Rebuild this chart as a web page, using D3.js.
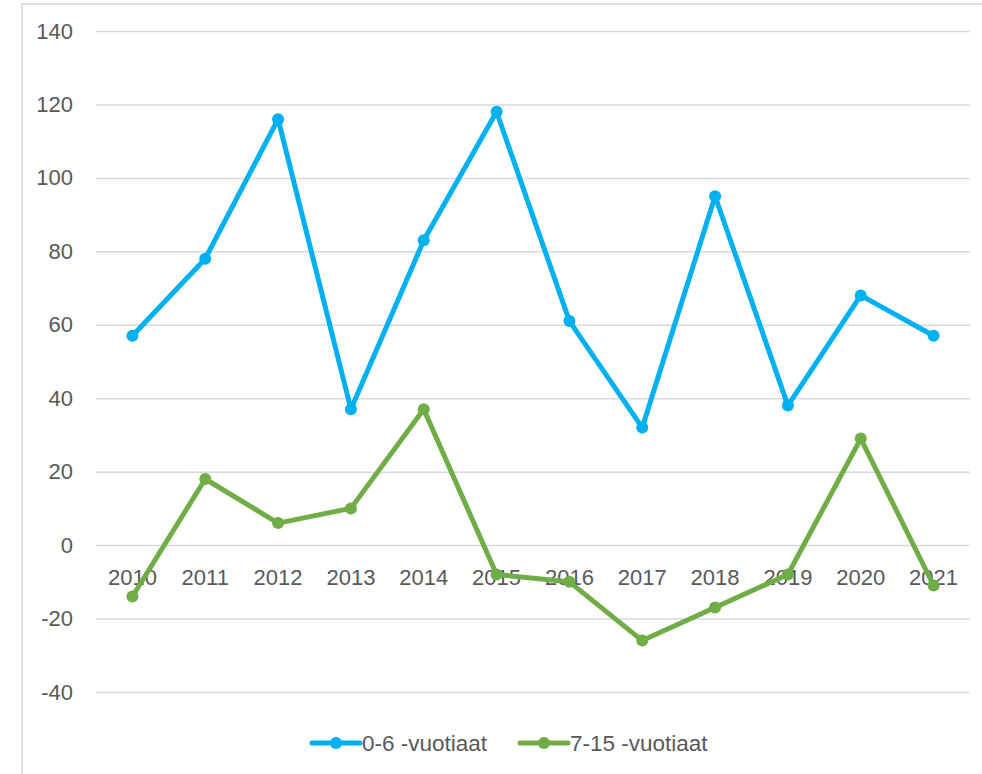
<!DOCTYPE html>
<html>
<head>
<meta charset="utf-8">
<script src="https://cdn.jsdelivr.net/npm/d3@7"></script>
<style>
  html, body { margin: 0; padding: 0; background: #fff; }
  text { font-family: 'Liberation Sans', Arial, sans-serif; fill: #595959; }
</style>
</head>
<body>
<div id="vis"></div>
<script>
'use strict'

const years = ['2010', '2011', '2012', '2013', '2014', '2015', '2016', '2017', '2018', '2019', '2020', '2021']
const young = [57, 78, 116, 37, 83, 118, 61, 32, 95, 38, 68, 57]
const older = [-14, 18, 6, 10, 37, -8, -10, -26, -17, -8, 29, -11]
const yTicks = [140, 120, 100, 80, 60, 40, 20, 0, -20, -40]
const seriesNames = ['0-6 -vuotiaat', '7-15 -vuotiaat']

const colors = ['#00b0f0', '#70ad47']

const totalWidth = 982
const totalHeight = 774
const margin = { top: 31, right: 12, bottom: 82, left: 96 }
const width = totalWidth - margin.left - margin.right
const height = totalHeight - margin.top - margin.bottom

const svg = d3.select('div#vis')
  .append('svg')
    .attr('width', totalWidth)
    .attr('height', totalHeight)

svg // chart frame
  .append('rect')
    .attr('x', 22)
    .attr('y', 4)
    .attr('width', 1000)
    .attr('height', 800)
    .attr('fill', 'none')
    .attr('stroke', '#d9d9d9')
    .attr('stroke-width', 1.5)

const x = d3.scaleBand()
  .domain(years)
  .range([0, width])

const y = d3.scaleLinear()
  .domain([-40, 140])
  .range([height, 0])

const chart = svg
  .append('g')
    .attr('transform', 'translate(' + margin.left + ',' + margin.top + ')')

// gridlines + y labels (plain hyphen for negatives)
const yAxis = d3.axisLeft(y)
  .tickValues(yTicks)
  .tickFormat(d => String(d))
  .tickSize(-width)
  .tickPadding(23)

chart.append('g')
  .attr('class', 'y axis')
  .call(yAxis)
  .call(g => g.select('.domain').remove())
  .call(g => g.selectAll('line').attr('stroke', '#d9d9d9').attr('stroke-width', 1.5))
  .call(g => g.selectAll('text').attr('font-size', 22).attr('fill', '#595959'))

// category labels at the zero line
chart.append('g')
  .attr('class', 'x axis')
  .attr('transform', 'translate(0,' + y(0) + ')')
  .call(d3.axisBottom(x).tickSize(0).tickPadding(24))
  .call(g => g.select('.domain').remove())
  .call(g => g.selectAll('text').attr('font-size', 22).attr('fill', '#595959'))

const series = [young, older]

const line = d3.line()
  .x((d, i) => x(years[i]) + x.bandwidth() / 2)
  .y(d => y(d))

series.forEach((values, s) => {
  chart.append('path')
    .datum(values)
    .attr('fill', 'none')
    .attr('stroke', colors[s])
    .attr('stroke-width', 5)
    .attr('stroke-linejoin', 'round')
    .attr('d', line)

  chart.selectAll('circle.s' + s)
    .data(values)
    .join('circle')
      .attr('class', 's' + s)
      .attr('cx', (d, i) => x(years[i]) + x.bandwidth() / 2)
      .attr('cy', d => y(d))
      .attr('r', 6)
      .attr('fill', colors[s])
})

// legend
const legendX = [312, 520]
const legend = svg.append('g')
  .attr('transform', 'translate(0,743)')

seriesNames.forEach((name, s) => {
  const g = legend.append('g')
    .attr('transform', 'translate(' + legendX[s] + ',0)')
  g.append('line')
    .attr('x1', 0).attr('x2', 48)
    .attr('stroke', colors[s])
    .attr('stroke-width', 5)
    .attr('stroke-linecap', 'round')
  g.append('circle')
    .attr('cx', 24)
    .attr('r', 6)
    .attr('fill', colors[s])
  g.append('text')
    .attr('x', 50)
    .attr('dy', '0.35em')
    .attr('font-size', 22.5)
    .text(name)
})
</script>
</body>
</html>
